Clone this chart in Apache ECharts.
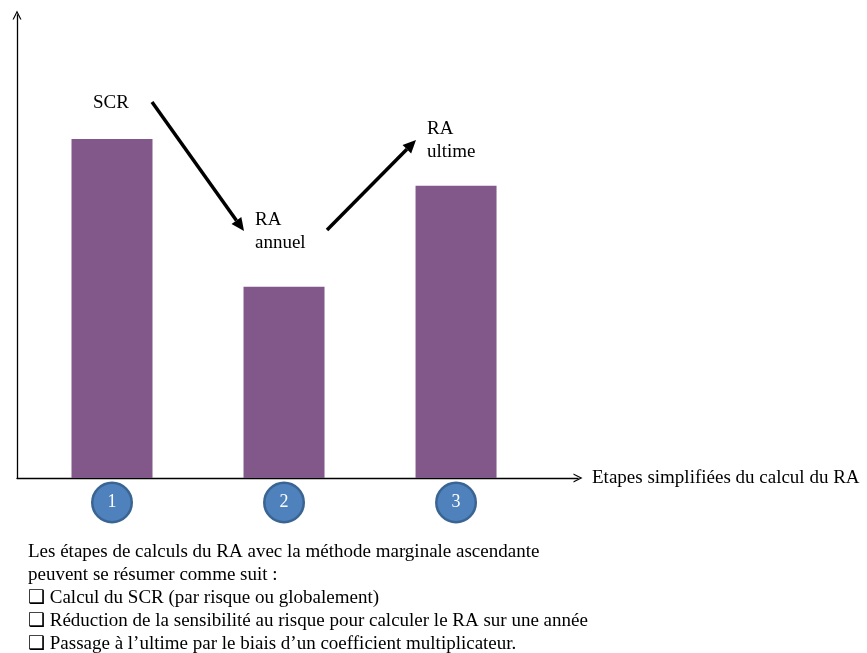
<!DOCTYPE html>
<html>
<head>
<meta charset="utf-8">
<script src="https://cdn.jsdelivr.net/npm/echarts@6/dist/echarts.min.js"></script>
<style>
	html, body { margin: 0; padding: 0; background: #ffffff; }
	#chart { width: 867px; height: 653px; }
</style>
</head>
<body>
<div id="chart"></div>
<script>
	// etapes du calcul (positions sur l'axe) et hauteurs des barres
	var etapes = [1, 2, 3];
	var hauteurs = [73.2, 41.3, 63.1];
	var nomAxe = 'Etapes simplifiées du calcul du RA';
	var notes = [
		'Les étapes de calculs du RA avec la méthode marginale ascendante',
		'peuvent se résumer comme suit :',
		'❑ Calcul du SCR (par risque ou globalement)',
		'❑ Réduction de la sensibilité au risque pour calculer le RA sur une année',
		'❑ Passage à l’ultime par le biais d’un coefficient multiplicateur.'
	];

	var police = "'Liberation Serif', 'Times New Roman', serif";
	var chevron = 'path://M0,10 L5,0 L10,10 L8.6,10 L5,2.8 L1.4,10 Z';

	var chart = echarts.init(document.getElementById('chart'));

	var donnees = etapes.map(function (e, i) { return [e, hauteurs[i]]; });

	// fleche diagonale (trait + pointe)
	function fleche(x1, y1, x2, y2) {
		var a = Math.atan2(y2 - y1, x2 - x1);
		var L = 13, W = 6;
		var bx = x2 - L * Math.cos(a), by = y2 - L * Math.sin(a);
		return [{
			type: 'line',
			shape: { x1: x1, y1: y1, x2: bx, y2: by },
			style: { stroke: '#000', lineWidth: 3.5 }
		}, {
			type: 'polygon',
			shape: { points: [[x2, y2], [bx + W * Math.sin(a), by - W * Math.cos(a)], [bx - W * Math.sin(a), by + W * Math.cos(a)]] },
			style: { fill: '#000' }
		}];
	}

	function texte(x, y, t) {
		return {
			type: 'text', x: x, y: y,
			style: { text: t, font: '19px ' + police, fill: '#000', textVerticalAlign: 'middle' }
		};
	}

	var graphiques = []
		.concat(fleche(152, 102, 244, 231))
		.concat(fleche(327, 230, 416, 140))
		.concat([
			texte(93, 103, 'SCR'),
			texte(255, 220, 'RA'),
			texte(255, 243, 'annuel'),
			texte(427, 129, 'RA'),
			texte(427, 152, 'ultime')
		]);
	notes.forEach(function (n, i) {
		graphiques.push(texte(28, 552 + i * 23, n));
	});

	var option = {
		backgroundColor: '#ffffff',
		animation: false,
		grid: { left: 17, right: 289, top: 15, bottom: 175 },
		xAxis: {
			type: 'value',
			min: 0.4477,
			max: 3.709,
			name: nomAxe,
			nameLocation: 'end',
			nameGap: 14,
			nameTextStyle: { fontFamily: police, fontSize: 19, color: '#000' },
			axisLine: {
				show: true,
				symbol: ['none', chevron],
				symbolSize: [13, 9],
				lineStyle: { color: '#000', width: 1.3 }
			},
			axisTick: { show: false },
			splitLine: { show: false },
			axisLabel: {
				customValues: etapes,
				margin: 6,
				formatter: function (v) { return '{c|' + v + '}'; },
				rich: {
					c: {
						width: 37, height: 37, lineHeight: 37,
						borderRadius: 20,
						backgroundColor: '#4f81bd',
						borderColor: '#3a6593',
						borderWidth: 2.5,
						color: '#ffffff',
						align: 'center',
						fontFamily: police,
						fontSize: 18
					}
				}
			}
		},
		yAxis: {
			type: 'value',
			min: 0,
			max: 100,
			axisLine: {
				show: true,
				symbol: ['none', chevron],
				symbolSize: [13, 9],
				lineStyle: { color: '#000', width: 1.3 }
			},
			axisTick: { show: false },
			axisLabel: { show: false },
			splitLine: { show: false }
		},
		series: [{
			type: 'bar',
			data: donnees,
			barWidth: 81,
			itemStyle: { color: '#82588b' }
		}],
		graphic: graphiques
	};

	chart.setOption(option);
</script>
</body>
</html>
